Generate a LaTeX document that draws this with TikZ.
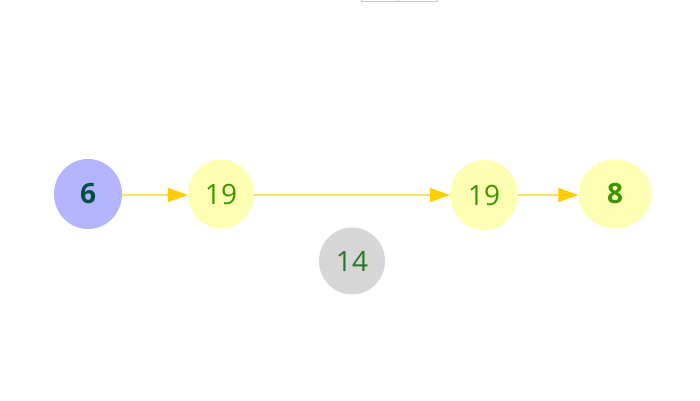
\documentclass[tikz,border=0pt]{standalone}
\usepackage{fontspec}
\setmainfont{Open Sans}
\usepackage{xcolor}
\usetikzlibrary{arrows.meta,shapes.geometric}

\definecolor{nodeblue}{RGB}{180,180,255}
\definecolor{nodeyellow}{RGB}{255,255,180}
\definecolor{nodegray}{RGB}{214,214,214}
\definecolor{darkteal}{RGB}{0,80,70}
\definecolor{leafgreen}{RGB}{60,150,0}
\definecolor{midgreen}{RGB}{40,120,40}
\definecolor{edgeline}{RGB}{255,222,100}
\definecolor{edgetip}{RGB}{255,204,0}

\tikzset{
  blob/.style={ellipse, inner sep=0pt, font=\fontsize{28}{28}\selectfont},
  link/.style={draw=edgeline, line width=1.1pt,
    -{Triangle[length=20pt,width=14pt,color=edgetip]}}
}

\begin{document}
\begin{tikzpicture}[x=1pt,y=1pt,yscale=-1,xscale=1]
  \useasboundingbox (0,0) rectangle (700,400);
  %Rectangle at top
  \draw [color={rgb, 255:red, 200; green, 200; blue, 200 }, line width=0.6]  (361,-4) rectangle (437,1) ;
  \draw [color={rgb, 255:red, 200; green, 200; blue, 200 }, line width=0.6]  (398,-4) -- (398,1) ;

  % Nodes
  \node [blob, fill=nodeblue, minimum width=68, minimum height=70, text=darkteal] (six) at (88,194) {\textbf{6}};
  \node [blob, fill=nodeyellow, minimum width=66, minimum height=69, text=leafgreen] (nineteenA) at (221,194) {19};
  \node [blob, fill=nodegray, minimum width=66, minimum height=67, text=midgreen] (fourteen) at (352,261) {14};
  \node [blob, fill=nodeyellow, minimum width=68, minimum height=70, text=leafgreen] (nineteenB) at (484,195) {19};
  \node [blob, fill=nodeyellow, minimum width=73, minimum height=69, text=leafgreen] (eight) at (615,194) {\textbf{8}};

  % Edges
  \draw [link] (six.east |- 0,195) -- (nineteenA.west |- 0,195) ;
  \draw [link] (nineteenA.east |- 0,195) -- (nineteenB.west |- 0,195) ;
  \draw [link] (nineteenB.east |- 0,195) -- (eight.west |- 0,195) ;
\end{tikzpicture}
\end{document}
